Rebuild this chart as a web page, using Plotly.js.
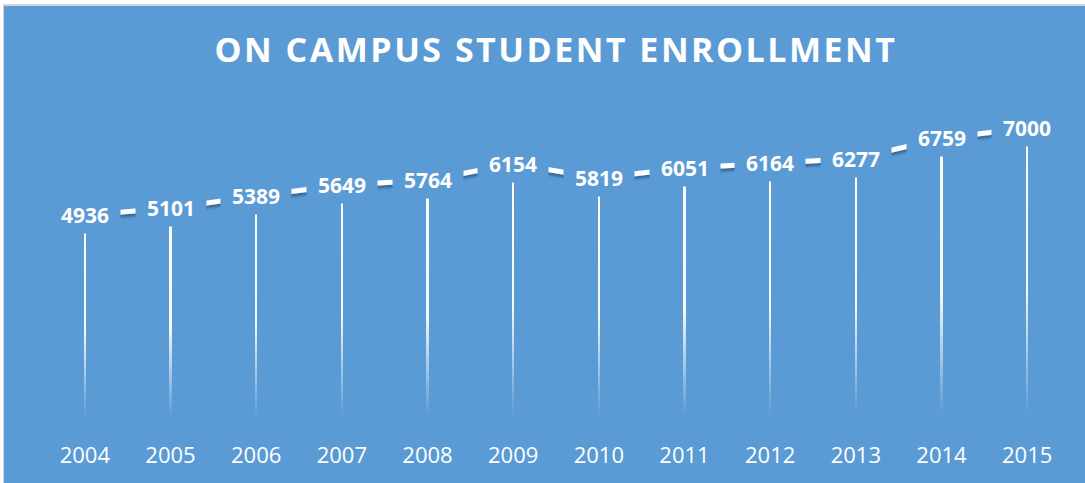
<!DOCTYPE html>
<html>
<head>
<meta charset="utf-8">
<script src="https://cdn.plot.ly/plotly-3.0.1.min.js"></script>
<style>
  html, body { margin: 0; padding: 0; background: #ffffff; width: 1085px; height: 483px; overflow: hidden; }
  #frame { position: absolute; left: 3px; top: 4px; border-left: 1px solid #d4d4d4; border-top: 2px solid #d4d4d4; }
  #chart { width: 1081px; height: 477px; }
</style>
</head>
<body>
<div id="frame"><div id="chart"></div></div>
<script>
const years = ['2004','2005','2006','2007','2008','2009','2010','2011','2012','2013','2014','2015'];
const enrollment = [4936, 5101, 5389, 5649, 5764, 6154, 5819, 6051, 6164, 6277, 6759, 7000];
const chartTitle = 'ON CAMPUS STUDENT ENROLLMENT';

const BG = '#5B9BD5';

const dropLines = {
  type: 'bar', x: years, y: enrollment, width: 0.025,
  marker: { color: '#ffffff', line: { width: 0 } },
  hoverinfo: 'skip', showlegend: false
};
const line = {
  type: 'scatter', mode: 'lines', x: years, y: enrollment,
  line: { color: '#ffffff', width: 5 },
  hoverinfo: 'skip', showlegend: false
};

const annotations = years.map((yr, i) => ({
  x: i, y: enrollment[i], xref: 'x', yref: 'y',
  text: '<b>' + enrollment[i] + '</b>', showarrow: false,
  xanchor: 'center', yanchor: 'middle',
  width: 62, height: 28, borderpad: 4,
  bgcolor: BG,
  font: { family: 'Open Sans', size: 21, color: '#ffffff' }
}));

const layout = {
  width: 1081, height: 477,
  paper_bgcolor: BG, plot_bgcolor: BG,
  margin: { l: 38, r: 15, t: 80, b: 60 },
  title: {
    text: '<b>' + chartTitle + '</b>',
    font: { family: 'Open Sans', size: 34, color: '#ffffff' },
    x: 0.5, xanchor: 'center', xref: 'paper',
    y: 1 - 44/477, yanchor: 'middle', yref: 'container'
  },
  xaxis: {
    type: 'category', range: [-0.5, years.length - 0.5], autorange: false,
    showgrid: false, zeroline: false, showline: false,
    ticks: '', ticklabelstandoff: 17,
    tickfont: { family: 'Open Sans', size: 22, color: '#ffffff' }
  },
  yaxis: { range: [0, 8000], autorange: false, visible: false, showgrid: false, zeroline: false },
  annotations: annotations,
  bargap: 0
};

Plotly.newPlot('chart', [dropLines, line], layout, { displayModeBar: false, staticPlot: true }).then(() => {
  const svg = document.querySelector('#chart svg.main-svg');
  const ns = 'http://www.w3.org/2000/svg';
  let defs = svg.querySelector('defs');
  if (!defs) { defs = document.createElementNS(ns, 'defs'); svg.insertBefore(defs, svg.firstChild); }
  const grad = document.createElementNS(ns, 'linearGradient');
  grad.setAttribute('id', 'dropGrad');
  grad.setAttribute('x1', '0'); grad.setAttribute('y1', '0');
  grad.setAttribute('x2', '0'); grad.setAttribute('y2', '1');
  [[0, 1], [0.55, 0.95], [0.97, 0], [1, 0]].forEach(([o, a]) => {
    const s = document.createElementNS(ns, 'stop');
    s.setAttribute('offset', o);
    s.setAttribute('stop-color', '#ffffff');
    s.setAttribute('stop-opacity', a);
    grad.appendChild(s);
  });
  defs.appendChild(grad);
  const filt = document.createElementNS(ns, 'filter');
  filt.setAttribute('id', 'lineShadow');
  filt.setAttribute('x', '-10%'); filt.setAttribute('y', '-50%');
  filt.setAttribute('width', '120%'); filt.setAttribute('height', '200%');
  const ds = document.createElementNS(ns, 'feDropShadow');
  ds.setAttribute('dx', '0'); ds.setAttribute('dy', '3');
  ds.setAttribute('stdDeviation', '1');
  ds.setAttribute('flood-color', '#1f3f66');
  ds.setAttribute('flood-opacity', '0.55');
  filt.appendChild(ds);
  defs.appendChild(filt);
  document.querySelectorAll('#chart .barlayer .point path').forEach(p => { p.style.fill = 'url(#dropGrad)'; p.style.fillOpacity = 1; });
  document.querySelectorAll('#chart .scatterlayer .js-line').forEach(p => { p.setAttribute('filter', 'url(#lineShadow)'); });
  const t = document.querySelector('#chart .gtitle');
  if (t) { t.style.letterSpacing = '2.5px'; }
});
</script>
</body>
</html>
